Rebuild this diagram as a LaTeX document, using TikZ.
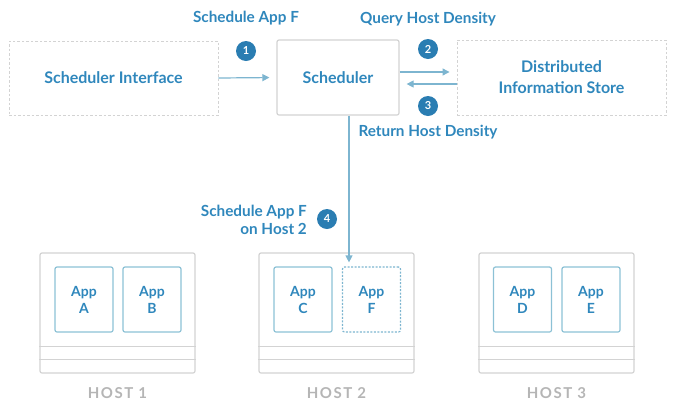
\documentclass[tikz,border=0pt]{standalone}
\usepackage{fontspec}
\setmainfont{Lato}[UprightFont=* Bold]
\newfontfamily\hostfont{Lato}[UprightFont=* Bold,LetterSpace=10]
\usetikzlibrary{arrows.meta,positioning,calc}
\definecolor{txtblue}{HTML}{2F87BC}
\definecolor{arrblue}{HTML}{7DB5D0}
\definecolor{appblue}{HTML}{8CC1D5}
\definecolor{badge}{HTML}{2A7DB2}
\definecolor{boxgray}{HTML}{D3D3D3}
\definecolor{hostgray}{HTML}{B5B5B5}
\tikzset{
  every node/.style={font=\fontsize{16}{16}\selectfont, text=txtblue},
  dashbox/.style={draw=boxgray, line width=0.9pt, dash pattern=on 2.5pt off 2pt, minimum width=209pt, minimum height=74pt, inner sep=0pt, align=center},
  solidbox/.style={draw=boxgray, line width=1.2pt, rounded corners=2pt, minimum width=122pt, minimum height=75pt, inner sep=0pt},
  hostbox/.style={draw=boxgray, line width=1.2pt, rounded corners=2pt, minimum width=155pt, minimum height=120pt, inner sep=0pt},
  appbox/.style={draw=appblue, line width=1.2pt, rounded corners=2pt, minimum width=58pt, minimum height=65pt, inner sep=0pt, align=center, font=\fontsize{14}{17}\selectfont},
  appdash/.style={appbox, draw=arrblue, dash pattern=on 2pt off 1.5pt},
  arr/.style={draw=arrblue, line width=1.2pt, -{Triangle[length=7pt,width=7pt]}},
  badgenode/.style={circle, fill=badge, minimum size=20pt, inner sep=0pt, text=white, font=\fontsize{11}{10}\selectfont},
  lbl/.style={font=\fontsize{15.3}{18}\selectfont, inner sep=0pt},
  hostlbl/.style={text=hostgray, font=\hostfont\fontsize{15}{15}\selectfont, inner sep=0pt},
  sep/.style={draw=boxgray, line width=1.2pt}
}
\begin{document}
\begin{tikzpicture}[x=1pt,y=-1pt]
\useasboundingbox (0,0) rectangle (678,408);
% top row
\node[dashbox] (si) at (113.5,78) {Scheduler Interface};
\node[solidbox] (sched) at (338,77.5) {Scheduler};
\node[dashbox, minimum height=75pt, font=\fontsize{16}{21}\selectfont] (dis) at (561.5,77.5) {Distributed\\Information Store};
% labels and badges
\node[lbl] (l1) at (246,18.5) {Schedule App F};
\node[badgenode] (b1) at (246,51) {1};
\node[lbl] (l2) at (428,19) {Query Host Density};
\node[badgenode] (b2) at (428,49) {2};
\node[badgenode] (b3) at (428,106) {3};
\node[lbl] (l3) at (428,132) {Return Host Density};
\node[lbl, align=right, anchor=east] (l4) at (307,220) {Schedule App F\\on Host 2};
\node[badgenode] (b4) at (327,219) {4};
% hosts
\node[hostbox] (h1) at (117.5,313) {};
\node[hostbox] (h2) at (336.5,313) {};
\node[hostbox] (h3) at (556.5,313) {};
\foreach \h in {h1,h2,h3}{
  \draw[sep] ([yshift=27pt]\h.south west) -- ([yshift=27pt]\h.south east);
  \draw[sep] ([yshift=14pt]\h.south west) -- ([yshift=14pt]\h.south east);
}
\node[appbox] (appA) at (84,299.5) {App\\A};
\node[appbox] (appB) at (152,299.5) {App\\B};
\node[appbox] (appC) at (303,299.5) {App\\C};
\node[appdash] (appF) at (371.5,299.5) {App\\F};
\node[appbox] (appD) at (522.5,299.5) {App\\D};
\node[appbox] (appE) at (591,299.5) {App\\E};
\node[hostlbl] (hl1) at (117.5,393) {HOST 1};
\node[hostlbl] (hl2) at (336.5,393) {HOST 2};
\node[hostlbl] (hl3) at (556.5,393) {HOST 3};
% arrows
\draw[arr, shorten >=7pt] (si.east) -- (sched.west);
\draw[arr, shorten >=7pt] ([yshift=5.5pt]sched.east) -- ([yshift=5.5pt]dis.west);
\draw[arr, shorten >=7pt] ([yshift=-6.5pt]dis.west) -- ([yshift=-6.5pt]sched.east);
\draw[arr, shorten >=4pt] ([xshift=11pt]sched.south) -- ([xshift=11pt]sched.south |- appF.north);
\end{tikzpicture}
\end{document}
